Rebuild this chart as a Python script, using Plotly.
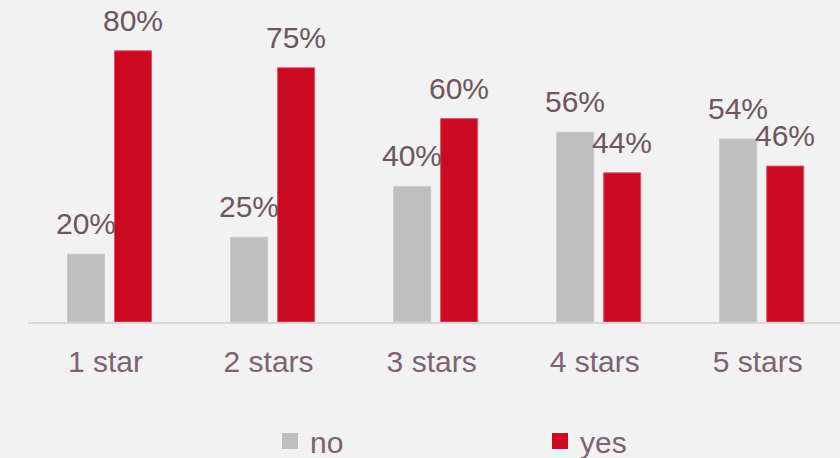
import plotly.graph_objects as go

categories = ["1 star", "2 stars", "3 stars", "4 stars", "5 stars"]
no_values = [0.20, 0.25, 0.40, 0.56, 0.54]
yes_values = [0.80, 0.75, 0.60, 0.44, 0.46]
series_names = ["no", "yes"]

GRAY = "#bfbfbf"
RED = "#cb0a21"
LABEL_COLOR = "#6e5562"
TICK_COLOR = "#7d6272"
FONT = "Liberation Sans, Arial, sans-serif"

fig = go.Figure()
fig.add_trace(go.Bar(x=categories, y=no_values, name=series_names[0],
                     marker=dict(color=GRAY, line=dict(color="#cacaca", width=1)),
                     showlegend=False))
fig.add_trace(go.Bar(x=categories, y=yes_values, name=series_names[1],
                     marker=dict(color=RED, line=dict(color="#e0506a", width=1)),
                     showlegend=False))

# legend entries
for nm, col in zip(series_names, [GRAY, RED]):
    fig.add_trace(go.Scatter(x=[None], y=[None], mode="markers", name=nm,
                             marker=dict(symbol="square", size=18, color=col)))

# data labels
for vals, dx in [(no_values, -23.5), (yes_values, 23.5)]:
    for c, v in zip(categories, vals):
        fig.add_annotation(x=c, y=v, text=f"{round(v*100)}%", showarrow=False,
                           xshift=dx, yshift=12, yanchor="bottom", xanchor="center",
                           font=dict(family=FONT, size=30, color=LABEL_COLOR))

fig.update_layout(
    width=840, height=458,
    margin=dict(l=28, r=0, t=0, b=136, autoexpand=False),
    paper_bgcolor="#f2f2f2", plot_bgcolor="#f2f2f2",
    barmode="group", bargap=0.4233, bargroupgap=0.2128,
    font=dict(family=FONT, size=30, color=TICK_COLOR),
    showlegend=True,
    legend=dict(orientation="h", x=(270-28)/812, xanchor="left",
                y=-145/322, yanchor="bottom",
                entrywidth=225, font=dict(size=30, color=TICK_COLOR),
                bgcolor="rgba(0,0,0,0)", itemwidth=30),
)
fig.update_xaxes(range=[-0.5, 4.48], showline=True, linecolor="#dcd4d8", linewidth=2,
                 ticks="", showgrid=False, zeroline=False,
                 tickfont=dict(size=30, color=TICK_COLOR), ticklabelshift=-4,
                 ticklabelstandoff=12)
fig.update_yaxes(range=[0, 0.95], visible=False, showgrid=False, zeroline=False)

fig.write_html("out.html", config={"displayModeBar": False},
               post_script="document.body.style.margin='0';document.body.style.background='#f2f2f2';")
